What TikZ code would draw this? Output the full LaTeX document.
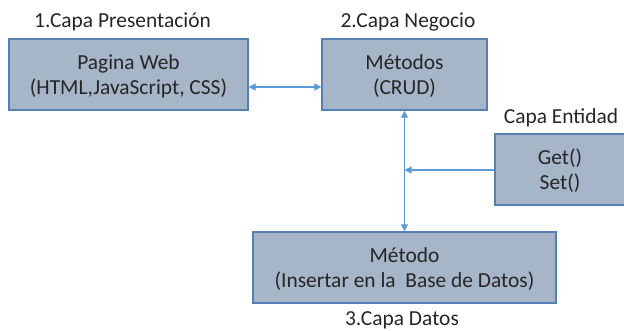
\documentclass[tikz,border=0pt]{standalone}
\usepackage{fontspec}
\setmainfont{Carlito}
\usetikzlibrary{arrows.meta}
\definecolor{boxfill}{HTML}{A6B5C8}
\definecolor{boxline}{HTML}{5680B3}
\definecolor{arr}{HTML}{5B9BD5}
\definecolor{txt}{HTML}{262626}
\newcommand{\topstrut}{\rule{0pt}{20bp}}
\newcommand{\botstrut}{\rule[-5bp]{0pt}{5bp}}
\tikzset{
  layerbox/.style={draw=boxline, line width=1.3bp, fill=boxfill, inner sep=0pt, align=center, text=txt, font=\fontsize{21.5}{25}\selectfont},
  lbl/.style={text=txt, font=\fontsize{21.5}{25}\selectfont, inner sep=0pt, anchor=base},
  conn/.style={draw=arr, line width=1.3bp, >={Triangle[width=7bp,length=7bp]}}
}
\begin{document}
\begin{tikzpicture}[x=1bp,y=-1bp]
\useasboundingbox (0,0) rectangle (624,330);
\node[layerbox, minimum width=239bp, minimum height=71bp] (pres) at (128.5,74.5) {\topstrut Pagina Web\\(HTML,JavaScript, CSS)\botstrut};
\node[layerbox, minimum width=165bp, minimum height=71bp] (neg) at (404.5,74.5) {\topstrut Métodos\\(CRUD)\botstrut};
\node[layerbox, minimum width=130bp, minimum height=71bp] (ent) at (560,169.5) {\topstrut Get()\\Set()\botstrut};
\node[layerbox, minimum width=303bp, minimum height=71bp] (dat) at (404.5,267.5) {\topstrut Método\\(Insertar en la\ \ Base de Datos)\botstrut};
\node[lbl] (lpres) at (122.5,27) {1.Capa Presentación};
\node[lbl] (lneg) at (408,27) {2.Capa Negocio};
\node[lbl] (lent) at (561,123) {Capa Entidad};
\node[lbl] (ldat) at (402,325) {3.Capa Datos};
\coordinate (a1) at (248,87);
\coordinate (a2) at (322,87);
\coordinate (j) at (404.5,170);
\draw[conn, <->] (pres.east |- a1) -- (neg.west |- a2);
\draw[conn, <->] (neg.south) -- (dat.north);
\draw[conn, ->] (ent.west |- j) -- (j);
\end{tikzpicture}
\end{document}
